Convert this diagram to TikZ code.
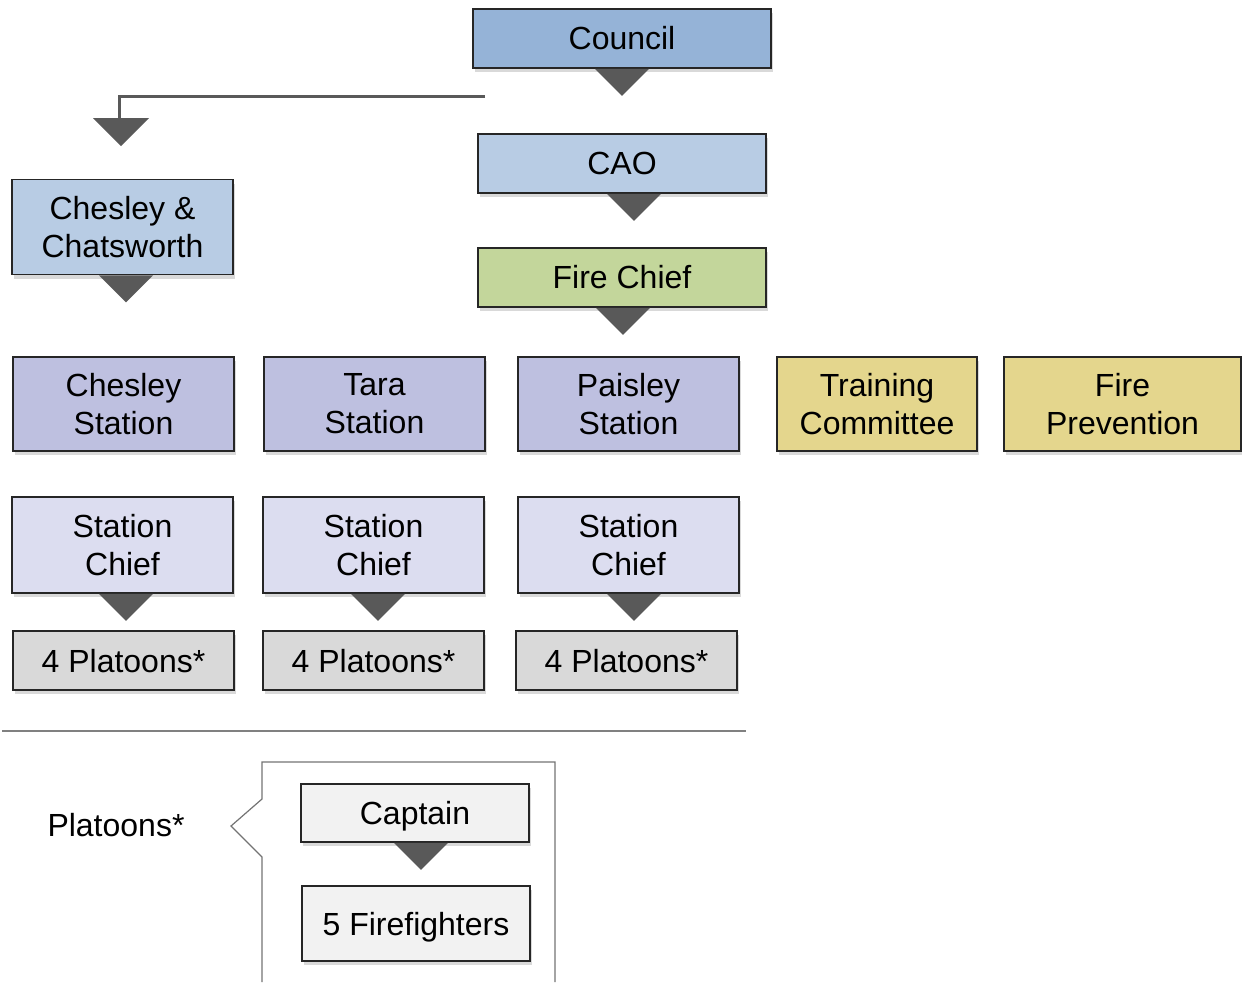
\documentclass[tikz,border=0pt]{standalone}
\usepackage{fontspec}
\setmainfont{Liberation Sans}
\usepackage{xcolor}
\usetikzlibrary{calc}
\usetikzlibrary{shadows}

\definecolor{councilblue}{HTML}{95B3D7}
\definecolor{lightblue}{HTML}{B8CCE4}
\definecolor{chiefgreen}{HTML}{C3D69B}
\definecolor{stationlav}{HTML}{BEC0E0}
\definecolor{sclav}{HTML}{DCDDF0}
\definecolor{khaki}{HTML}{E4D68D}
\definecolor{platgray}{HTML}{D9D9D9}
\definecolor{palegray}{HTML}{F2F2F2}
\definecolor{dropgray}{HTML}{595959}

\tikzset{
  orgbox/.style={draw=black!85, line width=0.75pt, inner sep=0pt, align=center,
    font=\fontsize{16}{19}\selectfont,
    drop shadow={shadow xshift=1pt, shadow yshift=-2pt, opacity=0.3}},
  widebox/.style={orgbox, minimum width=144pt, minimum height=29.5pt},
  stbox/.style={orgbox, minimum width=110.5pt, minimum height=47pt},
  platbox/.style={orgbox, fill=platgray, minimum width=110.5pt, minimum height=29.5pt,
    text height=11.5pt, text depth=0pt, drop shadow={opacity=0}},
  dropfill/.style={fill=dropgray},
}

% triangle under a node: node name, x offset from its south anchor
\newcommand{\dropmark}[2]{\fill[dropfill] ($(#1.south)+(#2-27,0)$) -- ++(54,0) -- ++(-27,27) -- cycle;}

\begin{document}
\begin{tikzpicture}[x=0.5pt,y=-0.5pt]
    \useasboundingbox (0,0) rectangle (1242,982);

    % top of the chain
    \node[widebox, fill=councilblue, minimum width=149pt] (council) at (622,38.5) {Council};
    \node[widebox, fill=lightblue] (cao) at (622,163.5) {CAO};
    \node[widebox, fill=chiefgreen] (firechief) at (622,277.5) {Fire Chief};
    \dropmark{council}{0}
    \dropmark{cao}{12}
    \dropmark{firechief}{1}

    % branch to the left
    \coordinate (branch) at (485,96);
    \coordinate (bend) at (119,96);
    \draw[dropgray, line width=1.5pt] (branch) -- (bend) -- ++(0,22);
    \fill[dropfill] (93,118) -- (149,118) -- (121,146) -- cycle;
    \node[stbox, fill=lightblue, minimum height=47.5pt] (chatsworth) at (122.5,227) {Chesley \&\\Chatsworth};
    \dropmark{chatsworth}{3.5}

    % stations
    \foreach \name/\x/\txt in {chesley/123.5/Chesley, tara/374.5/Tara, paisley/628.5/Paisley}
        {
          \node[stbox, fill=stationlav] (\name) at (\x,404) {\txt\\Station};
        };
    \node[stbox, fill=khaki, minimum width=100pt] (training) at (877,404) {Training\\Committee};
    \node[stbox, fill=khaki, minimum width=118.5pt] (prevention) at (1122.5,404) {Fire\\Prevention};

    % station chiefs and platoons
    \foreach \name/\x/\dx in {sca/122.5/3.5, scb/373.5/4.5, scc/628.5/5.5}
        {
          \node[stbox, fill=sclav, minimum height=48pt] (\name) at (\x,545) {Station\\Chief};
          \dropmark{\name}{\dx}
        };
    \foreach \name/\x in {pla/123.5, plb/373.5, plc/626.5}
        {
          \node[platbox] (\name) at (\x,660.5) {4 Platoons*};
        };

    \draw[gray, line width=0.8pt] (2,731) -- (746,731);

    % platoon detail
    \node[font=\fontsize{16}{19}\selectfont] (platoons) at (116,825) {Platoons*};
    \draw[gray!90!black, line width=0.6pt] (262,982) -- (262,857) -- (231,826) -- (262,799)
        -- (262,762) -- (555,762) -- (555,982);
    \node[platbox, fill=palegray, minimum width=114pt, minimum height=29pt] (captain) at (415,813) {Captain};
    \node[platbox, fill=palegray, minimum width=114pt, minimum height=37.5pt] (firefighters) at (416,923.5) {5 Firefighters};
    \dropmark{captain}{6}
\end{tikzpicture}
\end{document}
